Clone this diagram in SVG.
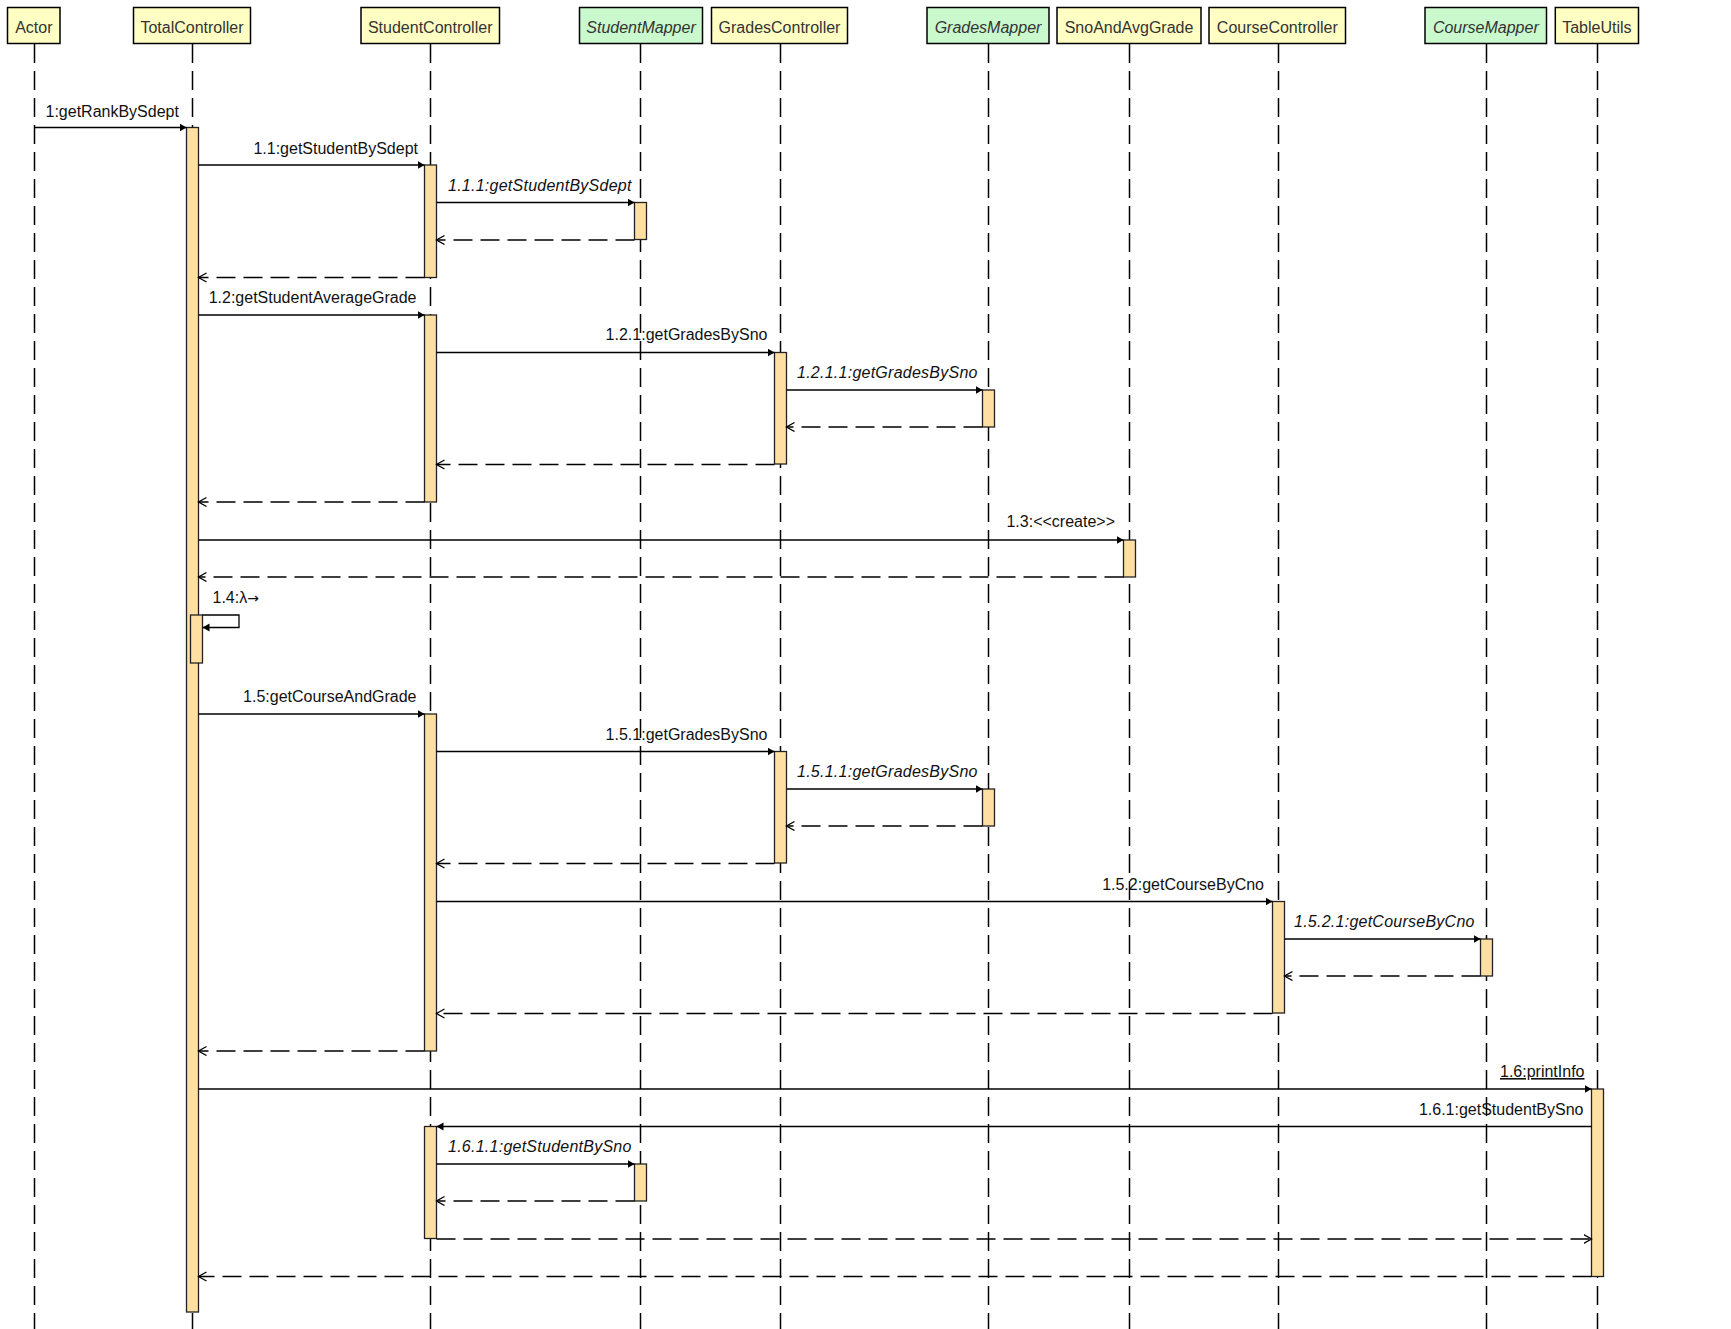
<svg xmlns="http://www.w3.org/2000/svg" width="1731" height="1329" viewBox="0 0 1731 1329">
<style>
.hdr{stroke:#000;stroke-width:1.5}
.cls{fill:#FFFFC4}
.map{fill:#C9F9CD}
.ht{font-family:"Liberation Sans",Arial,sans-serif;font-size:16px;fill:#333;text-anchor:middle}
.it{font-style:italic}
.lit{font-style:italic;letter-spacing:0.25px}
.life{stroke:#000;stroke-width:1.5;stroke-dasharray:19 8;fill:none}
.act{fill:#FFDFA2;stroke:#222;stroke-width:1.3}
.call{stroke:#000;stroke-width:1.3;fill:none;marker-end:url(#fill)}
.ret{stroke:#000;stroke-width:1.3;fill:none;stroke-dasharray:19 8;marker-end:url(#open)}
.lb{font-family:"Liberation Sans",Arial,sans-serif;font-size:16px;fill:#111}
.e{text-anchor:end}
</style>
<defs>
<marker id="fill" markerUnits="userSpaceOnUse" markerWidth="10" markerHeight="10" refX="7" refY="4" orient="auto" viewBox="0 0 10 10">
<path d="M0,0 L7,4 L0,8 z" fill="#000"/>
</marker>
<marker id="open" markerUnits="userSpaceOnUse" markerWidth="12" markerHeight="12" refX="8" refY="5" orient="auto" viewBox="0 0 12 12">
<path d="M0,0.5 L8,5 L0,9.5" fill="none" stroke="#000" stroke-width="1.3"/>
</marker>
</defs>
<rect x="0" y="0" width="1731" height="1329" fill="#fff"/>

<g id="lifelines">
<line class="life" x1="34.5" y1="44" x2="34.5" y2="1329"/>
<line class="life" x1="192.5" y1="44" x2="192.5" y2="1329"/>
<line class="life" x1="430.5" y1="44" x2="430.5" y2="1329"/>
<line class="life" x1="640.5" y1="44" x2="640.5" y2="1329"/>
<line class="life" x1="780.5" y1="44" x2="780.5" y2="1329"/>
<line class="life" x1="988.5" y1="44" x2="988.5" y2="1329"/>
<line class="life" x1="1129.5" y1="44" x2="1129.5" y2="1329"/>
<line class="life" x1="1278.5" y1="44" x2="1278.5" y2="1329"/>
<line class="life" x1="1486.5" y1="44" x2="1486.5" y2="1329"/>
<line class="life" x1="1597.5" y1="44" x2="1597.5" y2="1329"/>
</g>

<g id="node-actor"><rect class="hdr cls" x="7.5" y="7.5" width="52.5" height="36"/><text class="ht" x="33.8" y="32.5">Actor</text></g>
<g id="node-totalcontroller"><rect class="hdr cls" x="133.5" y="7.5" width="117" height="36"/><text class="ht" x="192" y="32.5">TotalController</text></g>
<g id="node-studentcontroller"><rect class="hdr cls" x="361" y="7.5" width="138.5" height="36"/><text class="ht" x="430.2" y="32.5">StudentController</text></g>
<g id="node-studentmapper"><rect class="hdr map" x="579.5" y="7.5" width="123" height="36"/><text class="ht it" x="641" y="32.5">StudentMapper</text></g>
<g id="node-gradescontroller"><rect class="hdr cls" x="711.5" y="7.5" width="136" height="36"/><text class="ht" x="779.5" y="32.5">GradesController</text></g>
<g id="node-gradesmapper"><rect class="hdr map" x="927" y="7.5" width="122" height="36"/><text class="ht it" x="988" y="32.5">GradesMapper</text></g>
<g id="node-snoandavggrade"><rect class="hdr cls" x="1057" y="7.5" width="144" height="36"/><text class="ht" x="1129" y="32.5">SnoAndAvgGrade</text></g>
<g id="node-coursecontroller"><rect class="hdr cls" x="1209" y="7.5" width="136.5" height="36"/><text class="ht" x="1277.3" y="32.5">CourseController</text></g>
<g id="node-coursemapper"><rect class="hdr map" x="1425" y="7.5" width="121.5" height="36"/><text class="ht it" x="1485.8" y="32.5">CourseMapper</text></g>
<g id="node-tableutils"><rect class="hdr cls" x="1555.3" y="7.5" width="83.2" height="36"/><text class="ht" x="1596.9" y="32.5">TableUtils</text></g>

<g id="activations">
<rect class="act" x="186.5" y="127.5" width="12" height="1184.5"/>
<rect class="act" x="424.5" y="165" width="12" height="112.5"/>
<rect class="act" x="634.5" y="202.5" width="12" height="37"/>
<rect class="act" x="424.5" y="315" width="12" height="187"/>
<rect class="act" x="774.5" y="352.5" width="12" height="111.5"/>
<rect class="act" x="982.5" y="390" width="12" height="37"/>
<rect class="act" x="1123.5" y="540" width="12" height="37"/>
<rect class="act" x="190.5" y="615" width="12" height="48"/>
<rect class="act" x="424.5" y="714" width="12" height="337"/>
<rect class="act" x="774.5" y="751.5" width="12" height="111.5"/>
<rect class="act" x="982.5" y="789" width="12" height="37"/>
<rect class="act" x="1272.5" y="901.5" width="12" height="111.5"/>
<rect class="act" x="1480.5" y="939" width="12" height="37"/>
<rect class="act" x="1591.5" y="1089" width="12" height="187.5"/>
<rect class="act" x="424.5" y="1126.5" width="12" height="112"/>
<rect class="act" x="634.5" y="1164" width="12" height="37"/>
</g>

<g id="connectors">
<line class="call" x1="34.5" y1="127.5" x2="186.5" y2="127.5"/>
<line class="call" x1="198.5" y1="165" x2="424.5" y2="165"/>
<line class="call" x1="436.5" y1="202.5" x2="634.5" y2="202.5"/>
<line class="ret" x1="634.5" y1="240" x2="436.5" y2="240"/>
<line class="ret" x1="424.5" y1="277.5" x2="198.5" y2="277.5"/>
<line class="call" x1="198.5" y1="315" x2="424.5" y2="315"/>
<line class="call" x1="436.5" y1="352.5" x2="774.5" y2="352.5"/>
<line class="call" x1="786.5" y1="390" x2="982.5" y2="390"/>
<line class="ret" x1="982.5" y1="427" x2="786.5" y2="427"/>
<line class="ret" x1="774.5" y1="464.5" x2="436.5" y2="464.5"/>
<line class="ret" x1="424.5" y1="502" x2="198.5" y2="502"/>
<line class="call" x1="198.5" y1="540" x2="1123.5" y2="540"/>
<line class="ret" x1="1123.5" y1="577" x2="198.5" y2="577"/>
<path class="call" d="M202.5,615 H239 V627.5 H202.5"/>
<line class="call" x1="198.5" y1="714" x2="424.5" y2="714"/>
<line class="call" x1="436.5" y1="751.5" x2="774.5" y2="751.5"/>
<line class="call" x1="786.5" y1="789" x2="982.5" y2="789"/>
<line class="ret" x1="982.5" y1="826" x2="786.5" y2="826"/>
<line class="ret" x1="774.5" y1="863.5" x2="436.5" y2="863.5"/>
<line class="call" x1="436.5" y1="901.5" x2="1272.5" y2="901.5"/>
<line class="call" x1="1284.5" y1="939" x2="1480.5" y2="939"/>
<line class="ret" x1="1480.5" y1="976" x2="1284.5" y2="976"/>
<line class="ret" x1="1272.5" y1="1013.5" x2="436.5" y2="1013.5"/>
<line class="ret" x1="424.5" y1="1051" x2="198.5" y2="1051"/>
<line class="call" x1="198.5" y1="1089" x2="1591.5" y2="1089"/>
<line class="call" x1="1591.5" y1="1126.5" x2="436.5" y2="1126.5"/>
<line class="call" x1="436.5" y1="1164" x2="634.5" y2="1164"/>
<line class="ret" x1="634.5" y1="1201" x2="436.5" y2="1201"/>
<line class="ret" x1="436.5" y1="1239" x2="1591.5" y2="1239"/>
<line class="ret" x1="1591.5" y1="1276.5" x2="198.5" y2="1276.5"/>
</g>

<g id="labels">
<text class="lb" x="45.5" y="117">1:getRankBySdept</text>
<text class="lb e" x="418" y="153.5">1.1:getStudentBySdept</text>
<text class="lb lit" x="448" y="191">1.1.1:getStudentBySdept</text>
<text class="lb e" x="416.5" y="303">1.2:getStudentAverageGrade</text>
<text class="lb e" x="767.5" y="340">1.2.1:getGradesBySno</text>
<text class="lb lit" x="797" y="377.5">1.2.1.1:getGradesBySno</text>
<text class="lb e" x="1115" y="527">1.3:&lt;&lt;create&gt;&gt;</text>
<text class="lb" x="212.5" y="602.5">1.4:λ<tspan font-family="'DejaVu Sans',sans-serif" font-size="14">→</tspan></text>
<text class="lb e" x="416.5" y="701.5">1.5:getCourseAndGrade</text>
<text class="lb e" x="767.5" y="740">1.5.1:getGradesBySno</text>
<text class="lb lit" x="797" y="777">1.5.1.1:getGradesBySno</text>
<text class="lb e" x="1264" y="890">1.5.2:getCourseByCno</text>
<text class="lb lit" x="1294" y="926.5">1.5.2.1:getCourseByCno</text>
<text class="lb e" x="1584.5" y="1077" text-decoration="underline">1.6:printInfo</text>
<text class="lb e" x="1583.5" y="1115">1.6.1:getStudentBySno</text>
<text class="lb lit" x="448" y="1151.5">1.6.1.1:getStudentBySno</text>
</g>
</svg>
